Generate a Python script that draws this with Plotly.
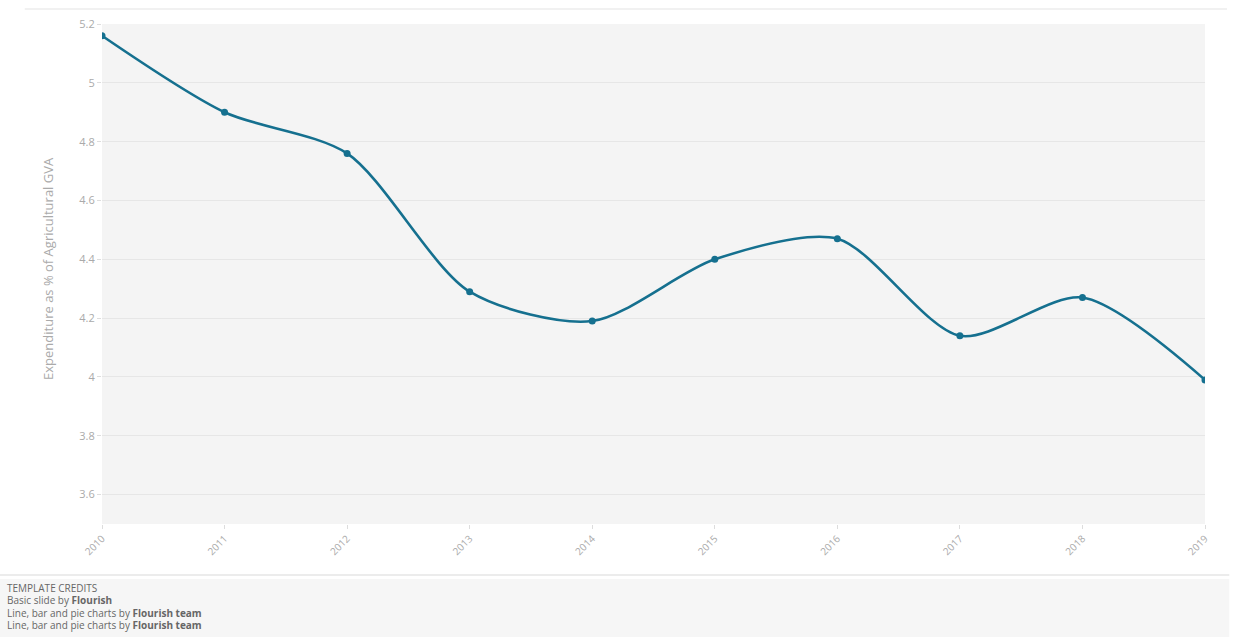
import plotly.graph_objects as go

years = [2010, 2011, 2012, 2013, 2014, 2015, 2016, 2017, 2018, 2019]
expenditure_pct = [5.16, 4.90, 4.76, 4.29, 4.19, 4.40, 4.47, 4.14, 4.27, 3.99]
y_title = "Expenditure as % of Agricultural GVA"
credit_lines = [
    "TEMPLATE CREDITS",
    "Basic slide by <b>Flourish</b>",
    "Line, bar and pie charts by <b>Flourish team</b>",
    "Line, bar and pie charts by <b>Flourish team</b>",
]

LINE = "#15708f"
FONT = "Open Sans"

fig = go.Figure()
fig.add_trace(go.Scatter(
    x=years, y=expenditure_pct, mode="lines+markers",
    line=dict(color=LINE, width=2.6, shape="spline", smoothing=0.8),
    marker=dict(color=LINE, size=7),
    hoverinfo="x+y", showlegend=False,
))

# top hairline and credits panel
fig.add_shape(type="line", xref="paper", yref="paper",
              x0=-0.07, x1=1.02, y0=1.03, y1=1.03,
              line=dict(color="#ececec", width=1.5))
fig.add_shape(type="rect", xref="paper", yref="paper",
              x0=-0.093, x1=1.022, y0=-0.226, y1=-0.11,
              fillcolor="#f6f6f6", line=dict(width=0), layer="below")
fig.add_shape(type="line", xref="paper", yref="paper",
              x0=-0.093, x1=1.022, y0=-0.102, y1=-0.102,
              line=dict(color="#ececec", width=2))

for i, txt in enumerate(credit_lines):
    fig.add_annotation(
        xref="paper", yref="paper", x=-0.088, y=-0.128 - i * 0.0245,
        xanchor="left", yanchor="middle", showarrow=False, text=txt,
        font=dict(family=FONT, size=10, color="#666666"),
    )

# y-axis title
fig.add_annotation(
    xref="paper", yref="paper", x=-0.049, y=0.512,
    xanchor="center", yanchor="middle", showarrow=False, textangle=-90,
    text=y_title, font=dict(family=FONT, size=13, color="#aaaaaa"),
)

fig.update_layout(
    width=1244, height=637,
    margin=dict(l=102, r=39, t=24, b=113),
    paper_bgcolor="white", plot_bgcolor="#f4f4f4",
    font=dict(family=FONT, color="#aaaaaa"),
    xaxis=dict(
        range=[2010, 2019], tickmode="array", tickvals=years,
        ticktext=[str(y) for y in years], tickangle=-45,
        showgrid=False, zeroline=False, showline=False,
        ticks="outside", ticklen=4, tickcolor="#dddddd",
        tickfont=dict(family=FONT, size=10, color="#aaaaaa"),
    ),
    yaxis=dict(
        range=[3.5, 5.2], tick0=3.6, dtick=0.2,
        showgrid=True, gridcolor="#e6e6e6", gridwidth=1,
        zeroline=False, showline=False,
        ticks="outside", ticklen=4, tickcolor="#dddddd",
        tickfont=dict(family=FONT, size=11, color="#aaaaaa"),
    ),
)

fig.write_html("out.html")
